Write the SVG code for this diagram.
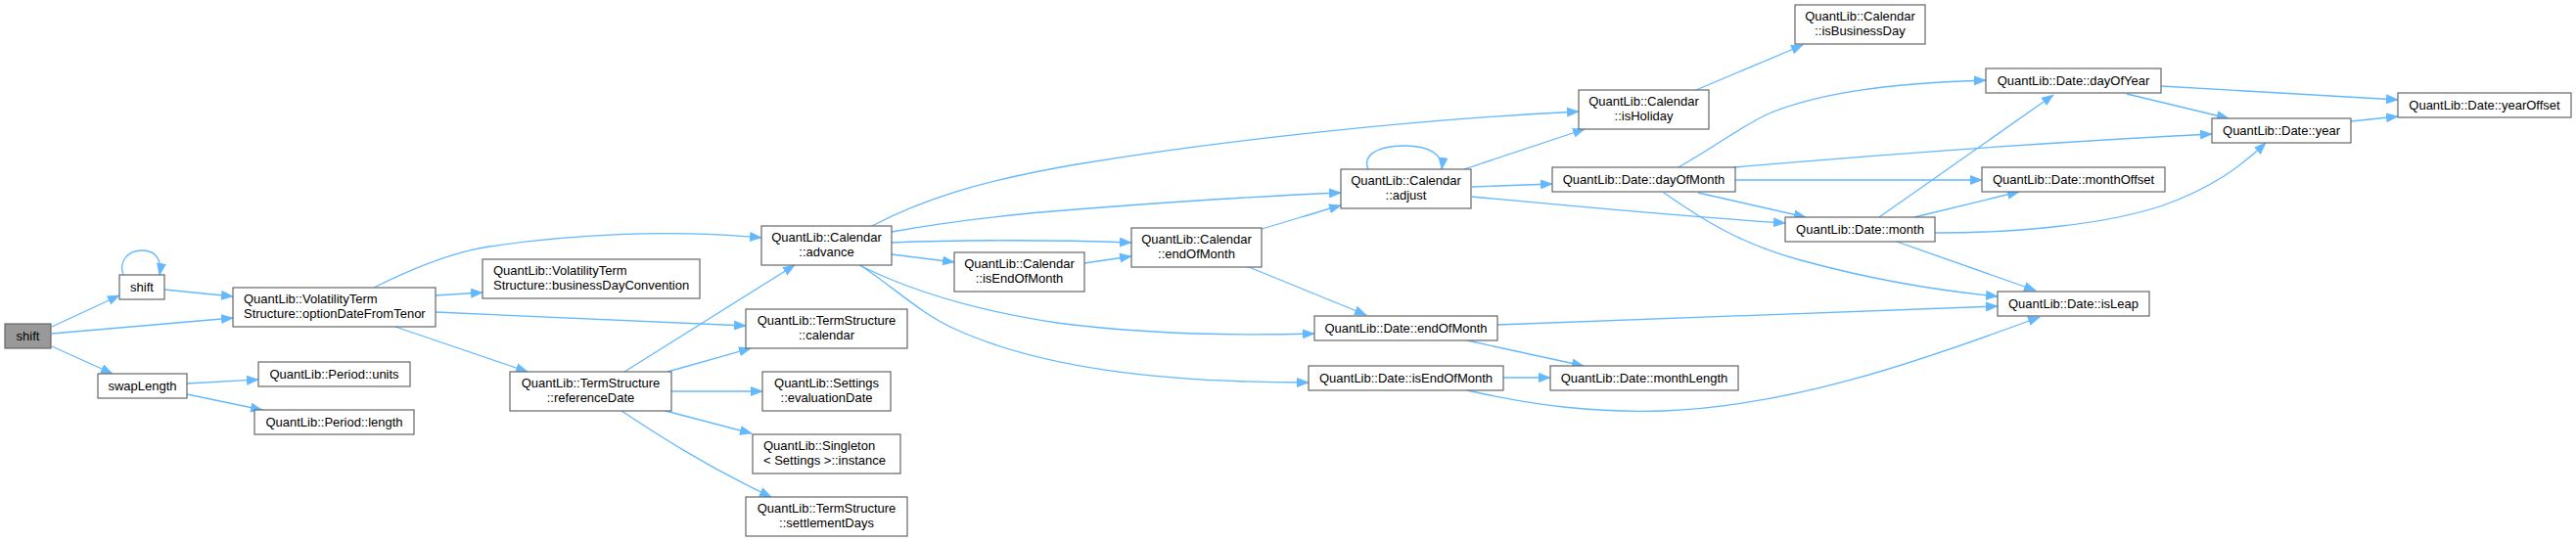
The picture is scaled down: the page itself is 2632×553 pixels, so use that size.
<svg xmlns="http://www.w3.org/2000/svg" width="2632" height="553" viewBox="0 0 2632 553">
<style>
.node rect{fill:#fff;stroke:#666;stroke-width:1.2}
.node.main rect{fill:#999}
text{font-family:"Liberation Sans",Arial,sans-serif;font-size:13px;fill:#000}
.c{text-anchor:middle}
.edges path{fill:none;stroke:#63b8ff;stroke-width:1.3;marker-end:url(#ah)}
</style>
<defs>
<marker id="ah" markerUnits="userSpaceOnUse" markerWidth="13" markerHeight="10" refX="12" refY="5" orient="auto">
<path d="M0,0 L13,5 L0,10 z" fill="#63b8ff" stroke="none"/>
</marker>
</defs>
<rect width="2632" height="553" fill="#fff"/>
<g class="edges">
<path d="M53,334 L122,302"/>
<path d="M53,341 L238,325"/>
<path d="M53,354 L115,382"/>
<path d="M126,281 C121,268 130,256 145,256 C157,256 166,263 163,281"/>
<path d="M168,296 L238,303"/>
<path d="M191,392 L264,388"/>
<path d="M191,403 L268,419"/>
<path d="M382,294 C420,275 460,258 500,252 C580,240 680,234 778,243"/>
<path d="M445,302 L493,299"/>
<path d="M445,319 L762,333"/>
<path d="M404,334 L539,380"/>
<path d="M638,380 L812,271"/>
<path d="M682,380 L767,356"/>
<path d="M686,400 L779,400"/>
<path d="M680,420 L768,443"/>
<path d="M635,420 C670,443 720,476 788,508"/>
<path d="M891,231 C940,205 1000,185 1100,168 C1250,143 1450,122 1613,114"/>
<path d="M911,237 C960,228 1020,220 1100,214 C1200,206 1300,200 1370,197"/>
<path d="M911,248 C980,245 1080,245 1156,248"/>
<path d="M911,260 L975,268"/>
<path d="M878,271 C920,292 980,315 1080,330 C1180,343 1270,343 1343,341"/>
<path d="M879,271 C915,295 940,320 975,336 C1060,375 1180,391 1337,391"/>
<path d="M1108,269 L1156,262"/>
<path d="M1289,234 C1320,225 1345,217 1370,210"/>
<path d="M1276,273 L1396,322"/>
<path d="M1398,173 C1392,160 1405,149 1435,149 C1460,149 1475,158 1473,173"/>
<path d="M1496,173 L1619,132"/>
<path d="M1504,191 L1586,188"/>
<path d="M1504,201 C1600,210 1700,220 1824,228"/>
<path d="M1733,92 L1842,46"/>
<path d="M1715,171 C1760,145 1785,125 1810,115 C1860,95 1930,85 2029,82"/>
<path d="M1771,171 C1900,160 2100,145 2260,137"/>
<path d="M1773,184 L2025,184"/>
<path d="M1735,197 L1845,222"/>
<path d="M1700,197 C1740,225 1780,250 1840,266 C1920,288 1990,298 2041,303"/>
<path d="M1920,222 L2098,97"/>
<path d="M1956,222 L2063,196"/>
<path d="M1977,238 C2060,238 2150,230 2210,210 C2260,192 2290,170 2315,146"/>
<path d="M1938,247 L2080,297"/>
<path d="M2173,96 L2277,121"/>
<path d="M2208,88 L2450,102"/>
<path d="M2402,124 L2450,119"/>
<path d="M1530,332 L2041,313"/>
<path d="M1499,348 L1618,374"/>
<path d="M1536,386 L1584,386"/>
<path d="M1499,399 C1570,415 1630,422 1700,420 C1830,415 1960,370 2084,324"/>
</g>
<g id="n_shift_main" class="node main"><rect x="5" y="331" width="47" height="25"/><text class="c" x="28.5" y="348">shift</text></g>
<g id="n_shift" class="node"><rect x="122" y="281" width="46" height="25"/><text class="c" x="145" y="298">shift</text></g>
<g id="n_optDate" class="node"><rect x="238" y="294" width="207" height="40"/><text x="249" y="309.5">QuantLib::VolatilityTerm</text><text x="249" y="324.5">Structure::optionDateFromTenor</text></g>
<g id="n_swapLength" class="node"><rect x="100" y="382" width="91" height="25"/><text class="c" x="145.5" y="399">swapLength</text></g>
<g id="n_units" class="node"><rect x="264" y="370" width="155" height="25"/><text class="c" x="341.5" y="387">QuantLib::Period::units</text></g>
<g id="n_length" class="node"><rect x="260" y="419" width="163" height="25"/><text class="c" x="341.5" y="436">QuantLib::Period::length</text></g>
<g id="n_advance" class="node"><rect x="778" y="231" width="133" height="40"/><text class="c" x="844.5" y="246.5">QuantLib::Calendar</text><text class="c" x="844.5" y="261.5">::advance</text></g>
<g id="n_bdc" class="node"><rect x="493" y="265" width="222" height="40"/><text x="504" y="280.5">QuantLib::VolatilityTerm</text><text x="504" y="295.5">Structure::businessDayConvention</text></g>
<g id="n_tscal" class="node"><rect x="762" y="316" width="165" height="40"/><text class="c" x="844.5" y="331.5">QuantLib::TermStructure</text><text class="c" x="844.5" y="346.5">::calendar</text></g>
<g id="n_refDate" class="node"><rect x="521" y="380" width="165" height="40"/><text class="c" x="603.5" y="395.5">QuantLib::TermStructure</text><text class="c" x="603.5" y="410.5">::referenceDate</text></g>
<g id="n_evalDate" class="node"><rect x="779" y="380" width="131" height="40"/><text class="c" x="844.5" y="395.5">QuantLib::Settings</text><text class="c" x="844.5" y="410.5">::evaluationDate</text></g>
<g id="n_instance" class="node"><rect x="769" y="444" width="151" height="40"/><text x="780" y="459.5">QuantLib::Singleton</text><text x="780" y="474.5">&lt; Settings &gt;::instance</text></g>
<g id="n_settle" class="node"><rect x="762" y="508" width="165" height="40"/><text class="c" x="844.5" y="523.5">QuantLib::TermStructure</text><text class="c" x="844.5" y="538.5">::settlementDays</text></g>
<g id="n_calIsEOM" class="node"><rect x="975" y="258" width="133" height="40"/><text class="c" x="1041.5" y="273.5">QuantLib::Calendar</text><text class="c" x="1041.5" y="288.5">::isEndOfMonth</text></g>
<g id="n_calEOM" class="node"><rect x="1156" y="233" width="133" height="40"/><text class="c" x="1222.5" y="248.5">QuantLib::Calendar</text><text class="c" x="1222.5" y="263.5">::endOfMonth</text></g>
<g id="n_adjust" class="node"><rect x="1370" y="173" width="133" height="40"/><text class="c" x="1436.5" y="188.5">QuantLib::Calendar</text><text class="c" x="1436.5" y="203.5">::adjust</text></g>
<g id="n_isHoliday" class="node"><rect x="1613" y="92" width="133" height="40"/><text class="c" x="1679.5" y="107.5">QuantLib::Calendar</text><text class="c" x="1679.5" y="122.5">::isHoliday</text></g>
<g id="n_isBD" class="node"><rect x="1834" y="5" width="133" height="40"/><text class="c" x="1900.5" y="20.5">QuantLib::Calendar</text><text class="c" x="1900.5" y="35.5">::isBusinessDay</text></g>
<g id="n_dayOfMonth" class="node"><rect x="1586" y="171" width="187" height="25"/><text class="c" x="1679.5" y="188">QuantLib::Date::dayOfMonth</text></g>
<g id="n_month" class="node"><rect x="1824" y="222" width="153" height="25"/><text class="c" x="1900.5" y="239">QuantLib::Date::month</text></g>
<g id="n_dEOM" class="node"><rect x="1343" y="323" width="187" height="25"/><text class="c" x="1436.5" y="340">QuantLib::Date::endOfMonth</text></g>
<g id="n_dIsEOM" class="node"><rect x="1337" y="374" width="199" height="25"/><text class="c" x="1436.5" y="391">QuantLib::Date::isEndOfMonth</text></g>
<g id="n_monthLength" class="node"><rect x="1584" y="374" width="192" height="25"/><text class="c" x="1680" y="391">QuantLib::Date::monthLength</text></g>
<g id="n_dayOfYear" class="node"><rect x="2029" y="70" width="179" height="25"/><text class="c" x="2118.5" y="87">QuantLib::Date::dayOfYear</text></g>
<g id="n_yearOffset" class="node"><rect x="2450" y="95" width="177" height="25"/><text class="c" x="2538.5" y="112">QuantLib::Date::yearOffset</text></g>
<g id="n_year" class="node"><rect x="2260" y="121" width="142" height="25"/><text class="c" x="2331" y="138">QuantLib::Date::year</text></g>
<g id="n_monthOffset" class="node"><rect x="2025" y="171" width="187" height="25"/><text class="c" x="2118.5" y="188">QuantLib::Date::monthOffset</text></g>
<g id="n_isLeap" class="node"><rect x="2041" y="298" width="155" height="25"/><text class="c" x="2118.5" y="315">QuantLib::Date::isLeap</text></g>
</svg>
